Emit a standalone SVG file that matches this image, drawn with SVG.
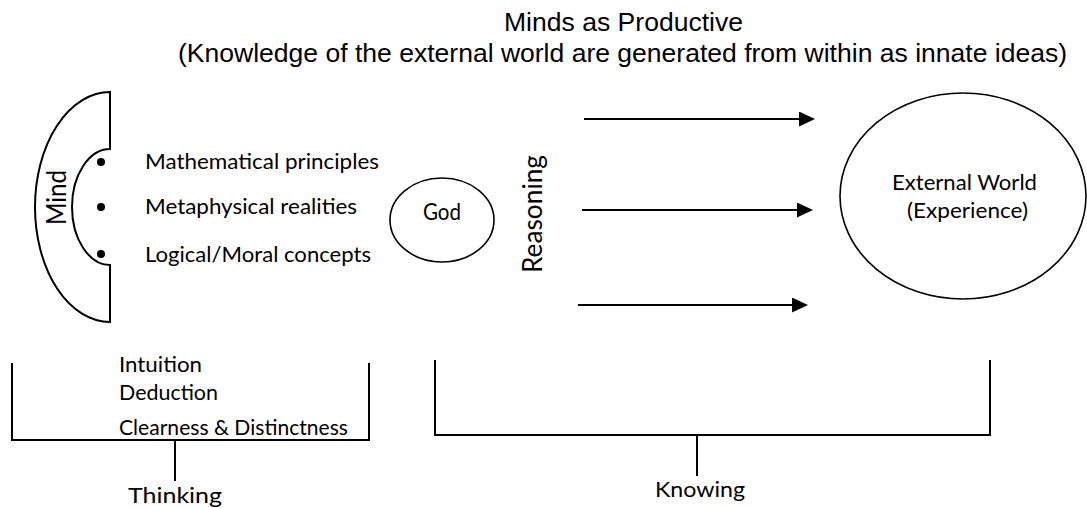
<svg xmlns="http://www.w3.org/2000/svg" width="1087" height="508" viewBox="0 0 1087 508">
<style>
.t{font-family:Lato,"Open Sans","Liberation Sans",sans-serif;fill:#000}
.ti{font-family:"Liberation Sans",Arial,sans-serif;font-size:26px;fill:#000}
.ln{fill:none;stroke:#000;stroke-width:2}
.el{fill:#fff;stroke:#000;stroke-width:1.6}
</style>
<defs>
<marker id="ah" markerUnits="userSpaceOnUse" markerWidth="17" markerHeight="16" refX="1" refY="7.5" orient="auto">
<path d="M0,0 L16,7.5 L0,15 Z" fill="#000"/>
</marker>
</defs>
<rect width="1087" height="508" fill="#fff"/>
<g id="title">
<text class="ti" x="504" y="31" textLength="239" lengthAdjust="spacingAndGlyphs">Minds as Productive</text>
<text class="ti" x="178" y="62" textLength="889" lengthAdjust="spacingAndGlyphs">(Knowledge of the external world are generated from within as innate ideas)</text>
</g>
<g id="mind">
<path class="ln" d="M110,92 A75,115 0 0 0 110,322 L110,265 A38,58 0 0 1 110,149 Z"/>
<text class="t" font-size="26" text-anchor="middle" transform="rotate(-90 66 197.5)" x="66" y="197.5" textLength="55" lengthAdjust="spacingAndGlyphs">Mind</text>
</g>
<g id="ideas">
<circle cx="101" cy="162" r="4"/>
<circle cx="101" cy="207" r="4"/>
<circle cx="101" cy="254" r="4"/>
<text class="t" font-size="22" x="145" y="169" textLength="234" lengthAdjust="spacingAndGlyphs">Mathematical principles</text>
<text class="t" font-size="22" x="145" y="214" textLength="212" lengthAdjust="spacingAndGlyphs">Metaphysical realities</text>
<text class="t" font-size="22" x="145" y="262" textLength="226" lengthAdjust="spacingAndGlyphs">Logical/Moral concepts</text>
</g>
<g id="god">
<ellipse class="el" cx="442" cy="220" rx="52" ry="42"/>
<text class="t" font-size="23" text-anchor="middle" x="442" y="220" textLength="38" lengthAdjust="spacingAndGlyphs">God</text>
</g>
<g id="reasoning">
<text class="t" font-size="27" text-anchor="middle" transform="rotate(-90 542 214)" x="542" y="214" textLength="118" lengthAdjust="spacingAndGlyphs">Reasoning</text>
</g>
<g id="external-world">
<ellipse class="el" cx="963" cy="196" rx="123" ry="103"/>
<text class="t" font-size="22" x="892" y="190" textLength="145" lengthAdjust="spacingAndGlyphs">External World</text>
<text class="t" font-size="22" x="907" y="218" textLength="121" lengthAdjust="spacingAndGlyphs">(Experience)</text>
</g>
<g id="connectors">
<line class="ln" x1="584" y1="119" x2="800" y2="119" marker-end="url(#ah)"/>
<line class="ln" x1="582" y1="210" x2="798" y2="210" marker-end="url(#ah)"/>
<line class="ln" x1="578" y1="305" x2="793" y2="305" marker-end="url(#ah)"/>
<path class="ln" d="M12,363 V440 H369 V363"/>
<path class="ln" d="M175,440 V481"/>
<path class="ln" d="M435,360 V435 H990 V360"/>
<path class="ln" d="M697,435 V476"/>
</g>
<g id="thinking">
<text class="t" font-size="22" x="119" y="372" textLength="83" lengthAdjust="spacingAndGlyphs">Intuition</text>
<text class="t" font-size="22" x="119" y="400" textLength="99" lengthAdjust="spacingAndGlyphs">Deduction</text>
<text class="t" font-size="22" x="119" y="435" textLength="229" lengthAdjust="spacingAndGlyphs">Clearness &amp; Distinctness</text>
<text class="t" font-size="22" x="128" y="503" textLength="94" lengthAdjust="spacingAndGlyphs">Thinking</text>
</g>
<g id="knowing">
<text class="t" font-size="22" text-anchor="middle" x="700" y="497" textLength="90" lengthAdjust="spacingAndGlyphs">Knowing</text>
</g>
</svg>
